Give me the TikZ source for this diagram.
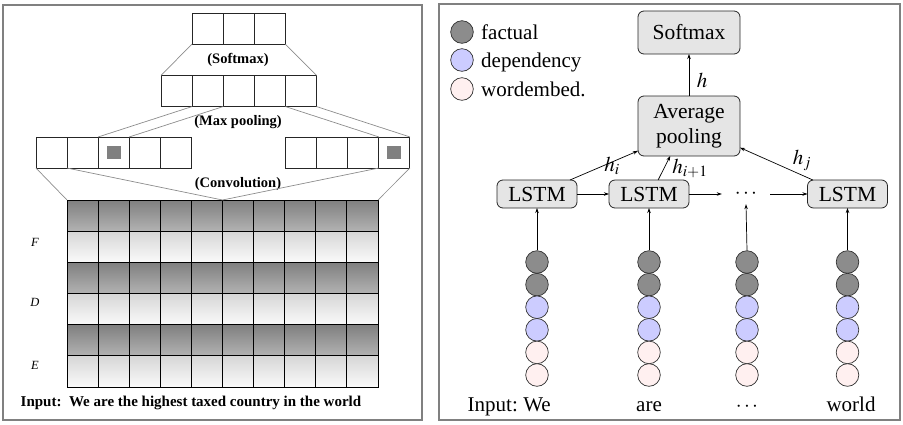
\documentclass[tikz,border=0pt]{standalone}
\usepackage{mathptmx}
\usepackage{fontspec}
\setmainfont{Liberation Serif}
\usetikzlibrary{arrows.meta,calc}
\begin{document}
\begin{tikzpicture}[x=1pt,y=-1pt,
  cell/.style={draw=black!85, line width=0.9pt, minimum width=31.1pt, minimum height=31.1pt, inner sep=0pt, outer sep=0pt},
  graysq/.style={fill=black!50, minimum width=14pt, minimum height=13pt, inner sep=0pt},
  conn/.style={draw=black!45, line width=0.7pt},
  lbl/.style={font=\fontsize{14.5}{16}\selectfont\bfseries},
  panel/.style={draw=black!50, line width=1.4pt},
  box/.style={draw=black!85, fill=black!10, rounded corners=6pt, line width=0.8pt, font=\fontsize{21.5}{25}\selectfont, align=center, inner sep=0pt, outer sep=0pt},
  arr/.style={-{Stealth[length=5pt,width=3.5pt]}, line width=0.7pt},
  ball/.style={circle, draw=black!80, minimum size=22.6pt, inner sep=0pt, line width=0.7pt},
  fact/.style={ball, fill=black!45},
  dep/.style={ball, fill=blue!20},
  emb/.style={ball, fill=red!6},
  rtext/.style={font=\fontsize{21}{25}\selectfont, inner sep=0pt},
  hlab/.style={font=\fontsize{21}{25}\selectfont, inner sep=0pt},
  fde/.style={font=\fontsize{12.5}{14}\selectfont\itshape}
]
\useasboundingbox (0,0) rectangle (903,424);
% ---------------- left panel ----------------
\draw[panel] (3,5) rectangle (422,420);
\foreach \i in {1,2,3} \node[cell] (s\i) at ({192+31.1*(\i-0.5)},28.5) {};
\foreach \i in {1,...,5} \node[cell] (m\i) at ({161+31.1*(\i-0.5)},91) {};
\foreach \i in {1,...,5} \node[cell] (c\i) at ({36+31.1*(\i-0.5)},152.5) {};
\foreach \i in {1,...,4} \node[cell] (d\i) at ({285+31.25*(\i-0.5)},152.5) {};
\node[graysq] (q1) at (c3) {};
\node[graysq] (q2) at (d4) {};
\node[lbl] (tsm) at (238,60) {(Softmax)};
\node[lbl] (tmp) at (238,122) {(Max pooling)};
\node[lbl] (tcv) at (238,184) {(Convolution)};
% grid
\foreach \r in {1,3,5}
  \shade[top color=black!50, bottom color=black!30] (67,{200+31.17*(\r-1)}) rectangle (378,{200+31.17*\r});
\foreach \r in {2,4,6}
  \shade[top color=black!16, bottom color=black!2] (67,{200+31.17*(\r-1)}) rectangle (378,{200+31.17*\r});
\node[draw=black, line width=0.9pt, minimum width=311pt, minimum height=187pt, inner sep=0pt, outer sep=0pt] (grid) at (222.5,293.5) {};
\foreach \k in {1,...,9} \draw[line width=0.9pt] ({67+31.1*\k},200) -- ({67+31.1*\k},387);
\foreach \k in {1,...,5} \draw[line width=0.9pt] (67,{200+31.17*\k}) -- (378,{200+31.17*\k});
% connectors
\draw[conn] (s1.south west) -- (m1.north west);
\draw[conn] (s3.south east) -- (m5.north east);
\draw[conn] (m2.south west) -- (c3.north west);
\draw[conn] (m2.south east) -- (c3.north east);
\draw[conn] (m5.south west) -- (d4.north west);
\draw[conn] (m5.south east) -- (d4.north east);
\draw[conn] (c1.south west) -- (grid.north west);
\draw[conn] (c1.south east) -- (grid.north);
\draw[conn] (d3.south east) -- (grid.north);
\draw[conn] (d4.south east) -- (grid.north east);
\node[fde] (lF) at (35,242) {F};
\node[fde] (lD) at (35,302) {D};
\node[fde] (lE) at (35,365) {E};
\node[font=\fontsize{15}{17}\selectfont\bfseries, anchor=base west, inner sep=0pt] (inl) at (20.5,406) {Input:\, We are the highest taxed country in the world};
% ---------------- right panel ----------------
\draw[panel] (439,4) rectangle (900,420);
\node[fact] (lg1) at (462,32) {};
\node[dep] (lg2) at (462,60) {};
\node[emb] (lg3) at (462,89) {};
\node[rtext, anchor=base west] (lt1) at (481,39) {factual};
\node[rtext, anchor=base west] (lt2) at (481,67) {dependency};
\node[rtext, anchor=base west] (lt3) at (481,96) {wordembed.};
\node[box, minimum width=102pt, minimum height=43pt] (sm) at (689,32.5) {Softmax};
\node[box, minimum width=102pt, minimum height=60pt] (ap) at (689,126) {Average\\pooling};
\node[box, minimum width=80pt, minimum height=28pt] (l1) at (537,194) {LSTM};
\node[box, minimum width=80pt, minimum height=28pt] (l2) at (649,194) {LSTM};
\node[box, minimum width=80pt, minimum height=28pt] (l3) at (847.5,194) {LSTM};
\node[rtext, minimum width=48pt, minimum height=20pt] (dots) at (746,194) {$\cdots$};
\draw[arr] (ap.north) -- (sm.south);
\node[hlab] (hh) at (702,80) {$h$};
\draw[arr] (l1.east) -- (l2.west);
\draw[arr] (l2.east) -- (dots.west);
\draw[arr] (dots.east) -- (l3.west);
\draw[arr] (l1.23) -- (ap.206);
\draw[arr] (l2.57) -- (ap.238);
\draw[arr] (l3.158) -- (ap.337);
\node[hlab] (hi) at (612,166) {$h_i$};
\node[hlab] (hi1) at (690,168) {$h_{i+1}$};
\node[hlab] (hj) at (802,160) {$h_j$};
% columns of circles
\foreach \c/\x/\t in {1/537/l1, 2/649/l2, 3/747/dots, 4/847.5/l3}{
  \node[fact] (k\c a) at (\x,262) {};
  \node[fact] (k\c b) at (\x,284.6) {};
  \node[dep]  (k\c c) at (\x,307.2) {};
  \node[dep]  (k\c d) at (\x,329.8) {};
  \node[emb]  (k\c e) at (\x,352.4) {};
  \node[emb]  (k\c f) at (\x,375) {};
  \draw[arr] (k\c a.north) -- (\t.south);
}
\node[rtext, anchor=base] (w1) at (537,411) {We};
\node[rtext, anchor=base east] (win) at ($(w1.base west)+(-5,0)$) {Input:};
\node[rtext, anchor=base] (w2) at (649,411) {are};
\node[rtext, anchor=base] (w3) at (747,411) {$\cdots$};
\node[rtext, anchor=base] (w4) at (851,411) {world};
\end{tikzpicture}
\end{document}
